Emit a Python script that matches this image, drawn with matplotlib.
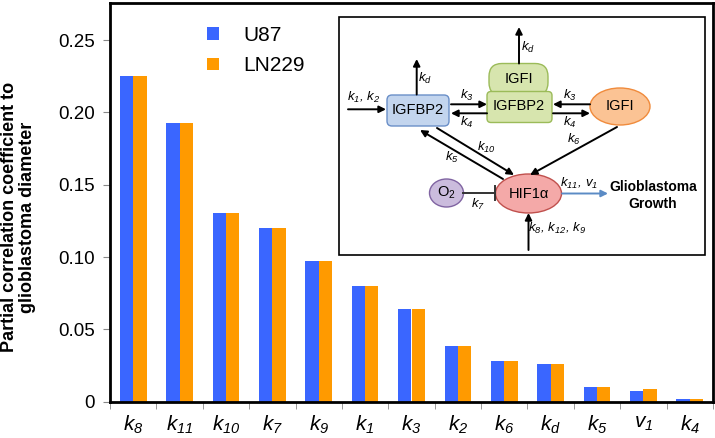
import matplotlib
matplotlib.use("Agg")
import matplotlib.pyplot as plt
import numpy as np
from matplotlib.patches import Ellipse, FancyBboxPatch, Rectangle

plt.rcParams["font.family"] = ["Liberation Sans", "DejaVu Sans"]
plt.rcParams["mathtext.fontset"] = "custom"
plt.rcParams["mathtext.it"] = "Liberation Sans:italic"
plt.rcParams["mathtext.rm"] = "Liberation Sans:italic"
plt.rcParams["mathtext.sf"] = "Liberation Sans"

# parameters, sorted by sensitivity
params = ["8", "11", "10", "7", "9", "1", "3", "2", "6", "d", "5", "v1", "4"]
u87 = [0.2252, 0.1925, 0.1307, 0.1199, 0.0973, 0.0802, 0.0639, 0.0385,
       0.0279, 0.0259, 0.0104, 0.0076, 0.0019]
ln229 = [0.2252, 0.1925, 0.1307, 0.1199, 0.0973, 0.0802, 0.0639, 0.0385,
         0.0279, 0.0259, 0.0104, 0.0086, 0.0017]
yticks = [0, 0.05, 0.10, 0.15, 0.20, 0.25]
ytick_labels = ["0", "0.05", "0.10", "0.15", "0.20", "0.25"]

c_blue = "#3A66FF"
c_orange = "#FF9A00"


def klabel(p):
    if p == "v1":
        return r"$\mathit{v_{1}}$"
    return r"$\mathit{k_{%s}}$" % p


fig = plt.figure(figsize=(7.15, 4.38), dpi=100)
ax = fig.add_axes([110 / 715, 1 - 401.7 / 438, 603 / 715, 398.7 / 438])

x = np.arange(len(params))
w = 0.287
ax.bar(x - w / 2, u87, w, color=c_blue, label="U87")
ax.bar(x + w / 2, ln229, w, color=c_orange, label="LN229")

ax.set_xlim(-0.5, len(params) - 0.5)
ax.set_ylim(0, 0.2756)
ax.set_yticks(yticks)
ax.set_yticklabels(ytick_labels, fontsize=13.5)
ax.set_xticks(x)
ax.set_xticklabels([klabel(p) for p in params], fontsize=15)
ax.set_xticks(np.arange(-0.5, len(params)), minor=True)
ax.tick_params(axis="x", which="major", length=0, pad=9)
ax.tick_params(axis="x", which="minor", length=5, color="#888888", direction="out")
ax.tick_params(axis="y", length=5, color="#888888", pad=6)
for s in ax.spines.values():
    s.set_linewidth(2.0)
    s.set_color("black")
ax.set_ylabel("Partial correlation coefficient to\nglioblastoma diameter",
              fontsize=13, fontweight="bold", linespacing=1.1)
ax.yaxis.set_label_coords(-0.122, 0.463)

ax.legend(loc="upper left", bbox_to_anchor=(0.13, 0.99), frameon=False,
          fontsize=15, handlelength=0.55, handleheight=0.55, handletextpad=1.2,
          labelspacing=0.55)

# inset diagram, drawn in pixel coordinates
ov = fig.add_axes([0, 0, 1, 1])
ov.set_xlim(0, 715)
ov.set_ylim(438, 0)
ov.axis("off")

ov.add_patch(Rectangle((339, 17.3), 366, 237.7, facecolor="white",
                       edgecolor="black", lw=1.2))


def arrow(x0, y0, x1, y1, color="black"):
    ov.annotate("", xy=(x1, y1), xytext=(x0, y0),
                arrowprops=dict(arrowstyle="-|>", color=color, lw=1.4,
                                mutation_scale=10, shrinkA=0, shrinkB=0))


def lab(xx, yy, s, size=9.5):
    ov.text(xx, yy, s, fontsize=size, ha="center", va="center")


node_fs = 10.5
# IGFBP2 (blue)
ov.add_patch(FancyBboxPatch((387, 95), 62, 31, boxstyle="round,pad=0,rounding_size=5",
                            facecolor="#C3D5EE", edgecolor="#6A8FC8", lw=1))
ov.text(418, 110.5, "IGFBP2", fontsize=node_fs, ha="center", va="center")
# IGFI:IGFBP2 complex (green)
ov.add_patch(FancyBboxPatch((489, 63.5), 59, 32, boxstyle="round,pad=0,rounding_size=13",
                            facecolor="#D7E5AE", edgecolor="#9BBB59", lw=1))
ov.add_patch(FancyBboxPatch((487, 91.5), 65, 31, boxstyle="round,pad=0,rounding_size=4",
                            facecolor="#D7E5AE", edgecolor="#9BBB59", lw=1))
ov.text(519, 79, "IGFI", fontsize=node_fs, ha="center", va="center")
ov.text(519, 106, "IGFBP2", fontsize=node_fs, ha="center", va="center")
# IGFI (orange)
ov.add_patch(Ellipse((620, 106.5), 60, 37, facecolor="#FBC394", edgecolor="#F08B3C", lw=1))
ov.text(620, 106.5, "IGFI", fontsize=node_fs, ha="center", va="center")
# HIF1a (red)
ov.add_patch(Ellipse((528.5, 193.5), 66, 39, facecolor="#F4A9A8", edgecolor="#C0504D", lw=1))
ov.text(528.5, 193.5, "HIF1α", fontsize=node_fs, ha="center", va="center")
# O2 (purple)
ov.add_patch(Ellipse((446.5, 193), 34, 28, facecolor="#CBBCDD", edgecolor="#8064A2", lw=1))
ov.text(446.5, 193, r"O$_\mathsf{2}$", fontsize=node_fs, ha="center", va="center")

# arrows
arrow(348, 109.3, 386, 109.3)
lab(364, 97, r"$\mathit{k_{1},\,k_{2}}$")
arrow(416.7, 94.5, 416.7, 59)
lab(425, 78, r"$\mathit{k_{d}}$")
arrow(519, 63.5, 519, 27)
lab(528, 47, r"$\mathit{k_{d}}$")
arrow(451, 104.3, 487, 104.3)
arrow(487, 113.3, 451, 113.3)
lab(467, 95, r"$\mathit{k_{3}}$")
lab(467, 122, r"$\mathit{k_{4}}$")
arrow(590, 104.3, 553, 104.3)
arrow(553, 113.3, 590, 113.3)
lab(570, 95, r"$\mathit{k_{3}}$")
lab(570, 122, r"$\mathit{k_{4}}$")
arrow(617, 127, 530, 175)
lab(574, 139, r"$\mathit{k_{6}}$")
arrow(503, 179, 420, 130)
lab(452, 157, r"$\mathit{k_{5}}$")
arrow(437, 128, 514, 175)
lab(486, 147, r"$\mathit{k_{10}}$")
ov.plot([463, 495], [193, 193], color="#333333", lw=1.4)
ov.plot([495, 495], [186, 200], color="#333333", lw=1.4)
lab(478, 204, r"$\mathit{k_{7}}$")
arrow(562, 193.5, 608, 193.5, color="#5B8BC5")
lab(579, 183, r"$\mathit{k_{11},\,v_{1}}$")
ov.text(653, 195.5, "Glioblastoma\nGrowth", fontsize=10, fontweight="bold",
        ha="center", va="center", linespacing=1.2)
arrow(528.5, 250, 528.5, 213)
lab(557, 228, r"$\mathit{k_{8},\,k_{12},\,k_{9}}$")

fig.savefig("out.png", dpi=100)
